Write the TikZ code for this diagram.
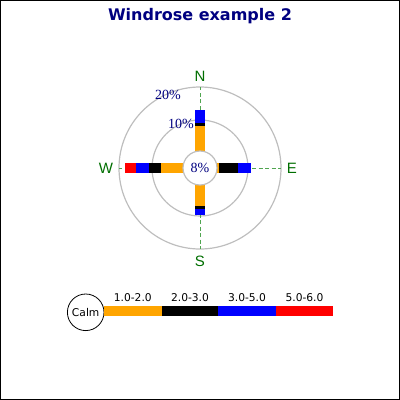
\documentclass[tikz,border=0pt]{standalone}
\usepackage{fontspec}
\setmainfont{Liberation Serif}
\newfontfamily\verdfont{DejaVu Sans}
\newfontfamily\arialfont{Liberation Sans}
\definecolor{navy}{RGB}{0,0,128}
\definecolor{compgreen}{RGB}{0,110,0}
\definecolor{dashgreen}{RGB}{80,165,80}
\definecolor{ringgray}{RGB}{190,190,190}
\definecolor{wrorange}{RGB}{255,165,0}
\tikzset{
  ring/.style={draw=ringgray, line width=1.2pt},
  axisline/.style={draw=dashgreen, line width=0.8pt, dash pattern=on 4pt off 2.5pt},
  complabel/.style={text=compgreen, inner sep=0pt, font=\arialfont\fontsize{15}{17}\selectfont},
  pctlabel/.style={text=navy, inner sep=0pt, font=\fontsize{14}{16}\selectfont},
  leglabel/.style={text=black, inner sep=0pt, font=\verdfont\fontsize{10.7}{12}\selectfont},
}
\begin{document}
\begin{tikzpicture}[x=1pt,y=-1pt]
\useasboundingbox (0,0) rectangle (400,400);
\draw[black, line width=1pt] (0.5,0.5) rectangle (399.5,399.5);
\node[inner sep=0pt, text=navy, font=\verdfont\bfseries\fontsize{16}{19}\selectfont] (title) at (200,16) {Windrose example 2};
% rings
\coordinate (c) at (200,168);
\draw[ring] (c) circle[radius=81];
\draw[ring] (c) circle[radius=48];
% axes
\coordinate (an) at (200,87);
\coordinate (as) at (200,249);
\coordinate (aw) at (119,168);
\coordinate (ae) at (281,168);
\draw[axisline] (c) -- (an);
\draw[axisline] (c) -- (as);
\draw[axisline] (c) -- (aw);
\draw[axisline] (c) -- (ae);
% N bar
\fill[wrorange] (195,151) rectangle (205,126);
\fill[black] (195,126) rectangle (205,123);
\fill[blue] (195,123) rectangle (205,110);
% S bar
\fill[wrorange] (195,185) rectangle (205,205.7);
\fill[black] (195,205.7) rectangle (205,209);
\fill[blue] (195,209) rectangle (205,215.3);
% E bar
\fill[wrorange] (217,163) rectangle (219,173);
\fill[black] (219,163) rectangle (238,173);
\fill[blue] (238,163) rectangle (251,173);
% W bar
\fill[wrorange] (183.3,163) rectangle (161.3,173);
\fill[black] (161.3,163) rectangle (149,173);
\fill[blue] (149,163) rectangle (135.7,173);
\fill[red] (135.7,163) rectangle (125,173);
% calm circle
\node[circle, draw=ringgray, line width=1.2pt, fill=white, minimum size=34pt, inner sep=0pt, pctlabel] (calm) at (c) {8\%};
% percentage labels
\node[pctlabel] (p20) at (168,95) {20\%};
\node[pctlabel] (p10) at (181,123.5) {10\%};
% compass labels
\node[complabel] (N) at (200,76) {N};
\node[complabel] (S) at (200,261) {S};
\node[complabel] (W) at (106,168) {W};
\node[complabel] (E) at (292,168) {E};
% legend
\node[circle, draw=black, line width=0.8pt, minimum size=36.6pt, inner sep=0pt, leglabel] (lcalm) at (85.7,312.3) {Calm};
\fill[wrorange] (104,306) rectangle (161.7,316);
\fill[black] (161.7,306) rectangle (218.3,316);
\fill[blue] (218.3,306) rectangle (275.7,316);
\fill[red] (275.7,306) rectangle (333.3,316);
\node[leglabel] (l1) at (132.8,297.5) {1.0-2.0};
\node[leglabel] (l2) at (190,297.5) {2.0-3.0};
\node[leglabel] (l3) at (247,297.5) {3.0-5.0};
\node[leglabel] (l4) at (304.5,297.5) {5.0-6.0};
\end{tikzpicture}
\end{document}
